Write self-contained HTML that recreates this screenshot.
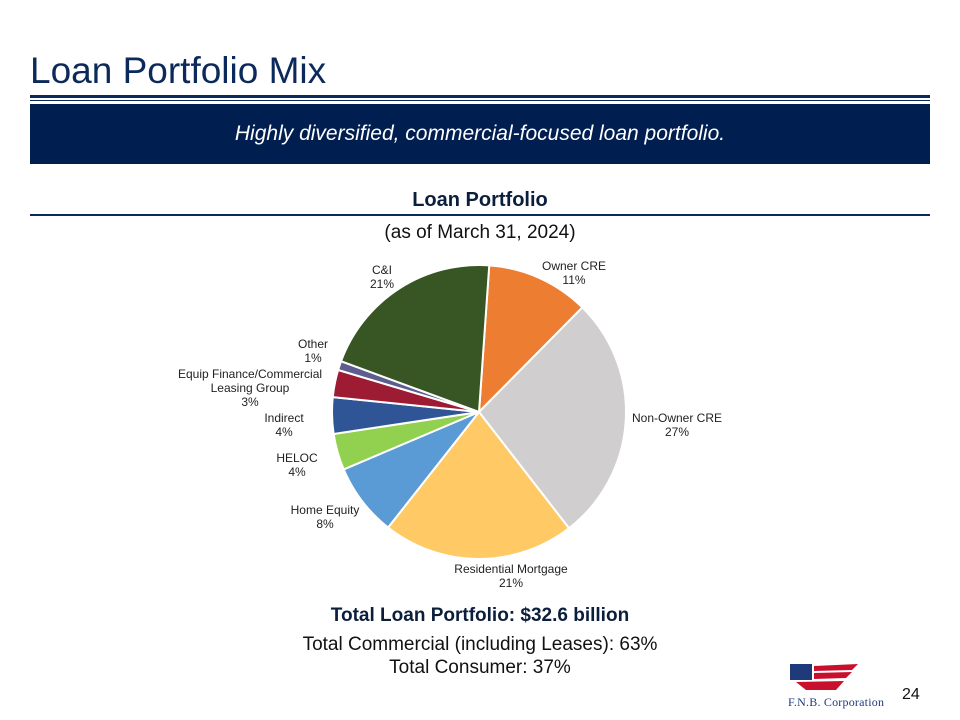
<!DOCTYPE html>
<html><head><meta charset="utf-8"><style>
body{margin:0;width:960px;height:720px;background:#fff;font-family:"Liberation Sans",Arial,sans-serif;position:relative;overflow:hidden}
.abs{position:absolute}
</style></head><body>
<div class="abs" style="left:30px;top:50px;font-size:37px;color:#0B2A5B">Loan Portfolio Mix</div>
<div class="abs" style="left:30px;top:95px;width:900px;height:3px;background:#0B2A5B"></div>
<div class="abs" style="left:30px;top:100px;width:900px;height:1px;background:#0B2A5B"></div>
<div class="abs" style="left:30px;top:104px;width:900px;height:60px;background:#001E50;color:#fff;font-size:21px;font-style:italic;text-align:center;line-height:60px">Highly diversified, commercial-focused loan portfolio.</div>
<div class="abs" style="left:0;width:960px;top:189px;text-align:center;font-size:20px;font-weight:bold;color:#0B1E3C">Loan Portfolio</div>
<div class="abs" style="left:30px;top:214px;width:900px;height:2px;background:#0B2A5B"></div>
<div class="abs" style="left:0;width:960px;top:222px;text-align:center;font-size:19px;color:#111">(as of March 31, 2024)</div>
<svg class="abs" style="left:0;top:0" width="960" height="720" id="pie"></svg>
<div class="abs" style="left:0;width:960px;top:605px;text-align:center;font-size:19px;font-weight:bold;color:#0B1E3C">Total Loan Portfolio: $32.6 billion</div>
<div class="abs" style="left:0;width:960px;top:634px;text-align:center;font-size:19px;color:#111">Total Commercial (including Leases): 63%</div>
<div class="abs" style="left:0;width:960px;top:657px;text-align:center;font-size:19px;color:#111">Total Consumer: 37%</div>
<svg class="abs" style="left:786px;top:662px" width="110" height="48">
<rect x="4" y="2" width="22" height="16" fill="#1F3A7A"/>
<path d="M28 4 L72 2 L66 8 L28 9Z M28 11 L66 10 L60 16 L28 17Z M10 20 L58 19 L50 28 L20 28Z" fill="#C8102E"/>
<text x="2" y="44" font-size="12" fill="#1F3A7A" font-family="Liberation Serif" textLength="96">F.N.B. Corporation</text>
</svg>
<div class="abs" style="left:902px;top:686px;font-size:16px;color:#111">24</div>
<script>
const categories=["Owner CRE","Non-Owner CRE","Residential Mortgage","Home Equity","HELOC","Indirect","Equip Finance/Commercial Leasing Group","Other","C&I"];
const values=[11.3,27.1,21.1,8,4,4,3,1,20.5];
const labels=["11%","27%","21%","8%","4%","4%","3%","1%","21%"];
const colors=["#ED7D31","#D0CECE","#FFC966","#5B9BD5","#92D050","#2F5597","#9E1C33","#5D5E8F","#375623"];
const svg=document.getElementById('pie');const NS="http://www.w3.org/2000/svg";
const cx=479,cy=412,r=147,start=4;
const total=values.reduce((a,b)=>a+b,0);
let a=start;
function pt(deg,rad){const t=deg*Math.PI/180;return [cx+rad*Math.sin(t),cy-rad*Math.cos(t)];}
values.forEach((v,i)=>{const span=v/total*360;const p1=pt(a,r),p2=pt(a+span,r);
const p=document.createElementNS(NS,'path');
p.setAttribute('d',`M${cx},${cy} L${p1[0]},${p1[1]} A${r},${r} 0 ${span>180?1:0} 1 ${p2[0]},${p2[1]} Z`);
p.setAttribute('fill',colors[i]);p.setAttribute('stroke','#fff');p.setAttribute('stroke-width','2');


svg.appendChild(p);a+=span;});
const lab=[[574,266,["Owner CRE","11%"]],[677,418,["Non-Owner CRE","27%"]],[511,569,["Residential Mortgage","21%"]],[325,510,["Home Equity","8%"]],[297,458,["HELOC","4%"]],[284,418,["Indirect","4%"]],[250,374,["Equip Finance/Commercial","Leasing Group","3%"]],[313,344,["Other","1%"]],[382,270,["C&I","21%"]]];
lab.forEach((l,i)=>{l[2].forEach((s,j)=>{const t=document.createElementNS(NS,'text');
t.setAttribute('x',l[0]);t.setAttribute('y',l[1]+4+j*14);t.setAttribute('text-anchor','middle');
t.setAttribute('font-size','12');t.setAttribute('fill','#222');t.textContent=j==l[2].length-1?labels[i]:s;


svg.appendChild(t);});});
</script>
</body></html>
